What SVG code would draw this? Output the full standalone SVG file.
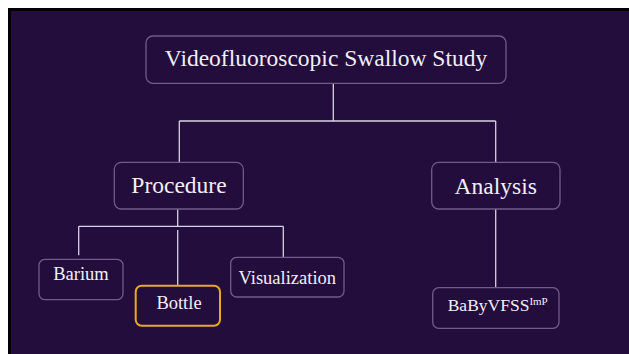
<svg xmlns="http://www.w3.org/2000/svg" width="629" height="354" viewBox="0 0 629 354">
<style>
.box{fill:#220d3c;stroke:#6f5c8a;stroke-width:1.3}
.hl{fill:#220d3c;stroke:#e8ab1e;stroke-width:2}
.t{font-family:"Liberation Serif","DejaVu Serif",serif;fill:#f3eef7;text-anchor:middle}
.big{font-size:23.5px}
.sm{font-size:18.5px}
.con{stroke:#d9d2e2;stroke-width:1.3;fill:none}
</style>
<rect x="0" y="0" width="629" height="354" fill="#ffffff"/>
<rect x="8" y="8" width="621" height="346" fill="#000000"/>
<rect x="11" y="11" width="618" height="343" fill="#220d3c"/>
<g id="connectors">
<path class="con" d="M333.3 83.5V121M179.3 121H495.7M179.3 121V162.3M495.7 121V162.3"/>
<path class="con" d="M177.7 209V226.3M78.7 226.3H283.3M78.7 226.3V255.3M283.3 226.3V257.3M177.7 230V285.7"/>
<path class="con" d="M495.7 209V287.7"/>
</g>
<g id="root">
<rect class="box" x="146" y="36" width="360" height="47.3" rx="7"/>
<text class="t big" x="326" y="66">Videofluoroscopic Swallow Study</text>
</g>
<g id="procedure">
<rect class="box" x="114.3" y="162.3" width="129" height="46.7" rx="7"/>
<text class="t big" x="179" y="193">Procedure</text>
</g>
<g id="analysis">
<rect class="box" x="431.7" y="162.3" width="128.3" height="46.7" rx="7"/>
<text class="t big" x="495.7" y="194">Analysis</text>
</g>
<g id="barium">
<rect class="box" x="39" y="259.3" width="84" height="40.4" rx="6"/>
<text class="t sm" x="81" y="280">Barium</text>
</g>
<g id="bottle">
<rect class="hl" x="135.7" y="285.7" width="84.3" height="40" rx="6"/>
<text class="t sm" x="179" y="309">Bottle</text>
</g>
<g id="visualization">
<rect class="box" x="230.7" y="257.3" width="113.3" height="39.7" rx="6"/>
<text class="t sm" x="287.3" y="284">Visualization</text>
</g>
<g id="babyvfss">
<rect class="box" x="432.7" y="287.7" width="126.3" height="40.6" rx="6"/>
<text class="t" x="447.7" y="311" style="text-anchor:start;font-size:17.5px">BaByVFSS<tspan font-size="11" dy="-6.5">ImP</tspan></text>
</g>
</svg>
